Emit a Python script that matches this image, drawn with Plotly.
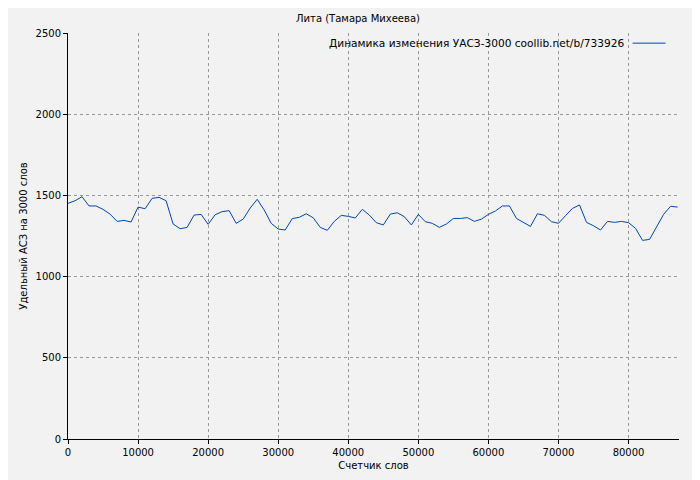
import plotly.graph_objects as go

step = 1000
values = [1451, 1467, 1492, 1435, 1435, 1414, 1385, 1340, 1346, 1336,
          1428, 1418, 1482, 1488, 1467, 1324, 1295, 1303, 1379, 1383,
          1322, 1381, 1400, 1406, 1328, 1354, 1422, 1476, 1410, 1328,
          1293, 1287, 1357, 1365, 1387, 1362, 1303, 1285, 1340, 1377,
          1371, 1361, 1414, 1379, 1332,
          1318, 1385, 1393, 1369, 1318, 1383, 1338, 1328, 1303, 1324,
          1358, 1358, 1363, 1340, 1354, 1383, 1404, 1435, 1435, 1358,
          1334, 1309, 1387, 1377, 1338, 1328, 1375, 1420, 1441, 1334,
          1313, 1287, 1340, 1334, 1340, 1332, 1297, 1223, 1229, 1307,
          1383, 1433, 1428]
words = [i * step for i in range(len(values))]

fig = go.Figure(go.Scatter(x=words, y=values, mode="lines",
                           line=dict(color="#0047b3", width=1), showlegend=False))

axis = dict(showline=True, linecolor="black", linewidth=1, ticks="outside",
            ticklen=4, tickcolor="black", gridcolor="#999999", griddash="dot",
            zeroline=False, mirror=False, tickfont=dict(size=10, color="black"),
            automargin=False, tickformat="d")
fig.update_xaxes(axis, range=[0, 87200], dtick=10000,
                 title=dict(text="Счетчик слов", font=dict(size=10), standoff=4))
fig.update_yaxes(axis, range=[0, 2500], dtick=500,
                 title=dict(text="Удельный АСЗ на 3000 слов", font=dict(size=10), standoff=6))

fig.add_annotation(x=0.914, y=1.0, xref="paper", yref="paper", xanchor="right", yanchor="top",
                   text="Динамика изменения УАСЗ-3000 coollib.net/b/733926", showarrow=False,
                   font=dict(size=10.6, color="black"), yshift=-2)
fig.add_shape(type="line", xref="paper", yref="paper", x0=0.924, x1=0.978, y0=0.975, y1=0.975,
              line=dict(color="#0047b3", width=1))

fig.update_layout(
    width=700, height=480,
    title=dict(text="Лита (Тамара Михеева)", x=0.5, y=0.985, font=dict(size=10, color="black"),
               automargin=False),
    paper_bgcolor="#f2f2f2", plot_bgcolor="#f2f2f2",
    font=dict(family="DejaVu Sans", color="black"),
    margin=dict(l=60, r=29, t=25, b=49, autoexpand=False),
)
fig.write_html("out.html")
